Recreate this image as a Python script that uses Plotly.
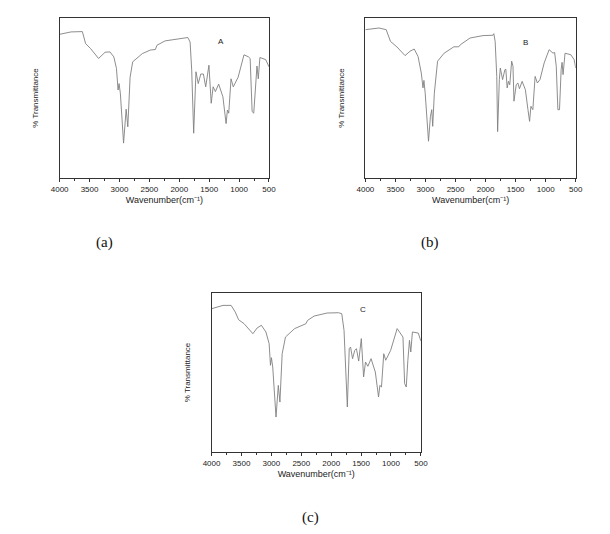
import plotly.graph_objects as go

# ---------------- data ----------------
wn_a = [4000, 3810, 3620, 3566, 3485, 3349, 3240, 3159, 3094, 3050, 3023, 3007, 2985, 2931, 2888, 2860,
        2822, 2779, 2616, 2481, 2400, 2372, 2237, 2020, 1857, 1819, 1792, 1759, 1721, 1683, 1640, 1597,
        1558, 1504, 1466, 1434, 1396, 1342, 1271, 1217, 1195, 1173, 1135, 1097, 1016, 918, 842, 815,
        782, 755, 728, 701, 679, 652, 555, 500]
tr_a = [89.8, 91.3, 91.5, 84, 81, 74.7, 78.6, 78.8, 75.7, 68.5, 55, 59, 53, 21.8, 43, 32,
        63, 72.6, 77.8, 80, 80.3, 83, 85.7, 87.1, 87.8, 85, 67.4, 28, 66.4, 59, 65, 65,
        57, 70.5, 46.7, 57, 54, 58.7, 50.8, 34, 42.5, 40.5, 62, 57, 63, 77, 75.7, 74.7,
        41.5, 40.5, 57, 70, 62, 75.3, 74, 69.5]

wn_b = [4000, 3773, 3654, 3583, 3475, 3340, 3259, 3188, 3124, 3070, 3042, 3026, 3005, 2950, 2918, 2896,
        2880, 2853, 2799, 2690, 2528, 2447, 2420, 2258, 2042, 1879, 1863, 1841, 1814, 1800, 1771, 1755,
        1717, 1679, 1663, 1641, 1620, 1598, 1566, 1544, 1528, 1490, 1463, 1436, 1392, 1338, 1295, 1268,
        1246, 1214, 1176, 1138, 1095, 1025, 943, 878, 851, 824, 797, 770, 743, 727, 711, 678, 581, 527, 500]
tr_b = [92.7, 93.75, 92.7, 85.4, 81.9, 76.5, 79.2, 80.6, 76, 65.6, 56.3, 61, 53, 23, 38.5, 42.7,
        32.3, 53, 73, 78, 82, 82, 83.3, 87.5, 89, 89.2, 90.2, 85.4, 63.5, 29, 61.5, 68.75,
        61.5, 67.7, 68, 56.3, 60.4, 58.3, 73, 69.8, 48, 58.3, 59.4, 55.8, 60.4, 55.2, 42.7, 35.4,
        44.8, 42.7, 63.5, 59.4, 61.5, 71.9, 80.2, 78, 78.5, 69.8, 42.7, 42.7, 67.7, 72.3, 64.6, 78, 77, 74, 68.75]

wn_c = [4000, 3809, 3673, 3603, 3548, 3456, 3309, 3238, 3167, 3091, 3037, 3015, 2999, 2977, 2922, 2884,
        2857, 2819, 2764, 2612, 2422, 2394, 2285, 2068, 1877, 1823, 1785, 1758, 1730, 1698, 1676, 1643,
        1606, 1578, 1540, 1496, 1458, 1426, 1387, 1333, 1262, 1208, 1186, 1159, 1121, 1088, 1006, 897,
        827, 800, 772, 745, 718, 691, 669, 642, 544, 500]
tr_c = [90.1, 92.2, 92.2, 88, 83.2, 80.7, 74.4, 78, 79.7, 75.5, 68.1, 54.5, 59.3, 53.5, 22, 41.9,
        31.4, 61.8, 72.3, 77.6, 80.7, 82.8, 85.5, 87.4, 87.6, 87, 76.5, 55.6, 28.3, 65, 66, 58.7,
        63.9, 65, 57.2, 71.3, 47.2, 56.6, 53.9, 58.7, 50.3, 34.6, 41.9, 40.9, 61.8, 57.7, 63.9, 77.6,
        73.8, 72.3, 43, 40.9, 57.7, 70.2, 62.9, 75.5, 74.8, 69.8]

x_ticks = [4000, 3500, 3000, 2500, 2000, 1500, 1000, 500]
panel_names = ["A", "B", "C"]
panel_tags = ["(a)", "(b)", "(c)"]
name_pos = [(1300, 85.2), (1343, 84.8), (1460, 89.7)]

W, H = 610, 534
# plot areas in pixels: (x0, x1, y0_top, y1_bottom)
boxes = [(52, 267, 18, 178), (366, 582, 18, 178), (208, 423, 293, 452)]
tag_px = [(98, 242), (432, 242), (310, 517)]

fig = go.Figure()
series = [(wn_a, tr_a), (wn_b, tr_b), (wn_c, tr_c)]
font_fam = "Liberation Sans, Arial, sans-serif"

layout = dict(
    width=W, height=H, margin=dict(l=0, r=0, t=0, b=0),
    paper_bgcolor="white", plot_bgcolor="white", showlegend=False,
    font=dict(family=font_fam, color="#222"),
)
annotations = []
for i, ((wx, ty), (x0, x1, y0, y1)) in enumerate(zip(series, boxes)):
    sfx = "" if i == 0 else str(i + 1)
    fig.add_trace(go.Scatter(x=wx, y=ty, mode="lines",
                             line=dict(color="#808080", width=0.9),
                             xaxis="x" + sfx, yaxis="y" + sfx, hoverinfo="skip"))
    layout["xaxis" + sfx] = dict(
        domain=[x0 / W, x1 / W], anchor="y" + sfx, range=[4000, 500],
        tickvals=x_ticks, ticktext=[str(t) for t in x_ticks],
        ticks="outside", ticklen=3, tickwidth=1, tickcolor="#333",
        minor=dict(dtick=250, ticks="outside", ticklen=2, tickcolor="#333", tick0=500),
        showline=True, linecolor="#333", linewidth=1, mirror=True,
        showgrid=False, zeroline=False, tickfont=dict(size=8, color="#222"),
        title=dict(text="Wavenumber(cm⁻¹)", font=dict(size=9, color="#222"), standoff=4),
    )
    layout["yaxis" + sfx] = dict(
        domain=[1 - y1 / H, 1 - y0 / H], anchor="x" + sfx, range=[0, 100],
        showticklabels=False, ticks="", showline=True, linecolor="#333", linewidth=1, mirror=True,
        showgrid=False, zeroline=False,
        title=dict(text="% Transmittance", font=dict(size=8, color="#222"), standoff=18),
    )
    nx, ny = name_pos[i]
    annotations.append(dict(x=nx, y=ny, xref="x" + sfx, yref="y" + sfx, text=panel_names[i],
                            showarrow=False, font=dict(size=8, color="#222")))
    tx, ty_ = tag_px[i]
    annotations.append(dict(x=tx / W, y=1 - ty_ / H, xref="paper", yref="paper", text=panel_tags[i],
                            showarrow=False, xanchor="center", yanchor="middle",
                            font=dict(size=15, family="Liberation Serif, DejaVu Serif, serif", color="#111")))

layout["annotations"] = annotations
fig.update_layout(**layout)
fig.write_html("out.html")
